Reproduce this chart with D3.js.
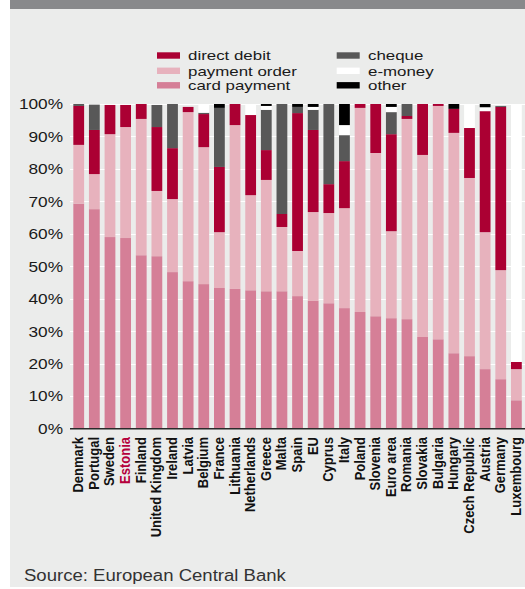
<!DOCTYPE html>
<html>
<head>
<meta charset="utf-8">
<script src="https://cdn.jsdelivr.net/npm/d3@7"></script>
<style>
  html, body { margin: 0; padding: 0; background: #ffffff; }
  svg { display: block; }
  text { font-family: "Liberation Sans", Arial, Helvetica, sans-serif; }
</style>
</head>
<body>
<svg id="chart" width="525" height="589"></svg>
<script>
// ---- data (percent shares) ----
const countries = ["Denmark","Portugal","Sweden","Estonia","Finland","United Kingdom","Ireland","Latvia","Belgium","France","Lithuania","Netherlands","Greece","Malta","Spain","EU","Cyprus","Italy","Poland","Slovenia","Euro area","Romania","Slovakia","Bulgaria","Hungary","Czech Republic","Austria","Germany","Luxembourg"];
const cardPayment  = [69.3,67.6,59.0,58.7,53.4,53.1,48.2,45.4,44.5,43.3,43.0,42.6,42.3,42.3,40.8,39.3,38.6,37.1,35.9,34.6,34.0,33.7,28.2,27.5,23.2,22.3,18.3,15.2,8.7];
const paymentOrder = [18.1,10.8,31.7,34.2,42.0,20.1,22.5,52.1,42.2,17.2,50.5,29.3,34.3,19.8,13.9,27.4,27.8,30.8,62.9,50.3,26.8,61.7,56.1,71.9,67.9,54.9,42.2,33.6,9.6];
const directDebit  = [12.0,13.6,9.0,6.8,4.6,19.7,15.7,1.6,10.2,20.1,6.5,24.7,9.2,4.0,42.5,25.3,8.9,14.5,1.2,15.1,29.9,0.9,15.7,0.6,7.4,15.4,37.3,50.3,2.2];
const cheque       = [0.6,7.8,0,0,0,6.8,13.6,0,0.4,18.2,0,0,12.4,33.9,1.9,6.2,24.7,8.0,0,0,6.8,3.7,0,0,0,0,0,0.3,0];
const eMoney       = [0,0,0,0,0,0,0,0,2.7,0,0,3.4,1.2,0,0,0.9,0,3.1,0,0,1.6,0,0,0,0,7.4,1.2,0,79.5];
const other        = [0,0,0,0,0,0,0,0,0,1.2,0,0,0.6,0,0.9,0.9,0,6.5,0,0,0.9,0,0,0,1.5,0,1.0,0,0];
const yTicks = [0,10,20,30,40,50,60,70,80,90,100];
const highlight = "Estonia";

const seriesKeys = ["card payment","payment order","direct debit","cheque","e-money","other"];
const seriesVals = [cardPayment, paymentOrder, directDebit, cheque, eMoney, other];
const colors = {
  "direct debit": "#ab0033",
  "payment order": "#e7b2bd",
  "card payment": "#d57f97",
  "cheque": "#585858",
  "e-money": "#ffffff",
  "other": "#000000"
};
const legendCols = [["direct debit","payment order","card payment"],["cheque","e-money","other"]];

const table = countries.map((c, i) => {
  const row = { country: c };
  seriesKeys.forEach((k, j) => row[k] = seriesVals[j][i]);
  return row;
});

const svg = d3.select("#chart");
const W = 525, H = 589;

// background panel and top band
svg.append("rect").attr("x", 10).attr("y", 0).attr("width", W - 10).attr("height", 587).attr("fill", "#ebeceb");
svg.append("rect").attr("x", 10).attr("y", 0).attr("width", W - 10).attr("height", 9).attr("fill", "#88898b");

const x = d3.scaleBand().domain(countries).range([70.2, 524.9]).paddingInner(0.31).paddingOuter(0.2);
const y = d3.scaleLinear().domain([0, 100]).range([428.5, 104]);

// gridlines
svg.append("g").selectAll("line").data(yTicks.filter(t => t > 0)).join("line")
  .attr("x1", 70).attr("x2", 525)
  .attr("y1", d => Math.round(y(d)) + 0.5).attr("y2", d => Math.round(y(d)) + 0.5)
  .attr("stroke", "#ffffff").attr("stroke-width", 1);

// stacked bars
const stack = d3.stack().keys(seriesKeys)(table);
svg.append("g").selectAll("g").data(stack).join("g")
  .attr("fill", d => colors[d.key])
  .selectAll("rect").data(d => d).join("rect")
  .attr("x", d => x(d.data.country))
  .attr("width", x.bandwidth())
  .attr("y", d => y(d[1]))
  .attr("height", d => Math.max(0, y(d[0]) - y(d[1])));

// bottom axis line
svg.append("line").attr("x1", 70).attr("x2", 525).attr("y1", 428.8).attr("y2", 428.8)
  .attr("stroke", "#2a2a2a").attr("stroke-width", 1.5);

// y labels
const sx = 1.15;
svg.append("g").selectAll("text").data(yTicks).join("text")
  .attr("transform", d => `translate(63,${y(d)}) scale(${sx},1)`)
  .attr("text-anchor", "end").attr("dy", "0.36em")
  .attr("font-size", 15).attr("fill", "#1a1a1a")
  .text(d => d + "%");

// country labels
svg.append("g").selectAll("text").data(countries).join("text")
  .attr("transform", d => `translate(${x(d) + x.bandwidth() / 2 + 4.5},437) scale(1.1,1) rotate(-90)`)
  .attr("text-anchor", "end")
  .attr("font-size", 13).attr("font-weight", "bold")
  .attr("fill", d => d === highlight ? "#b5003b" : "#111111")
  .text(d => d);

// legend
const legX = [157, 336.7], legTextX = [188, 368], legY = [55.5, 70.8, 85.3];
legendCols.forEach((col, ci) => {
  col.forEach((key, ri) => {
    svg.append("rect").attr("x", legX[ci]).attr("y", legY[ri] - 3.2)
      .attr("width", 23).attr("height", 6.4).attr("fill", colors[key]);
    svg.append("text")
      .attr("transform", `translate(${legTextX[ci]},${legY[ri] + 4.8}) scale(1.3,1)`)
      .attr("font-size", 13).attr("fill", "#1a1a1a").text(key);
  });
});

// source
svg.append("text").attr("transform", "translate(24,581) scale(1.16,1)")
  .attr("font-size", 16).attr("fill", "#333333").text("Source: European Central Bank");
</script>
</body>
</html>
